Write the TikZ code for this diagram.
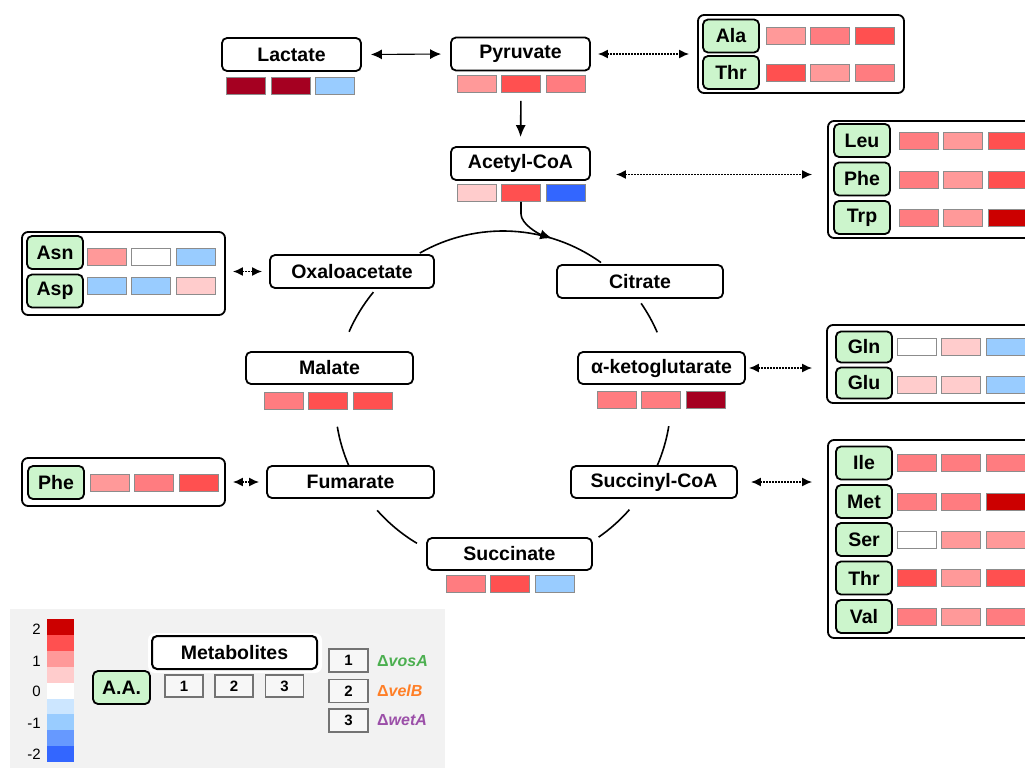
\documentclass[tikz,border=0pt]{standalone}
\usepackage{fontspec}
\setmainfont{Liberation Sans}
\usetikzlibrary{arrows.meta,calc}
\definecolor{Rz}{HTML}{FFCCCC}
\definecolor{Ra}{HTML}{FF9999}
\definecolor{Rb}{HTML}{FF7C80}
\definecolor{Rc}{HTML}{FF5050}
\definecolor{Rd}{HTML}{CC0000}
\definecolor{Re}{HTML}{A50021}
\definecolor{Ba}{HTML}{CCE6FF}
\definecolor{Bb}{HTML}{99CCFF}
\definecolor{Bc}{HTML}{6699FF}
\definecolor{Bd}{HTML}{3366FF}
\definecolor{Wh}{HTML}{FFFFFF}
\definecolor{aagreen}{HTML}{CCF5CC}
\definecolor{legbg}{HTML}{F2F2F2}
\definecolor{cellline}{HTML}{8C8C8C}
\definecolor{vosc}{HTML}{4CAF50}
\definecolor{velc}{HTML}{FF7F27}
\definecolor{wetc}{HTML}{9B4FA8}
\newcommand{\heatrow}[6]{%
  \node[cell,fill=#4] (#1a) at (#2,#3) {};
  \node[cell,fill=#5] (#1b) at ({#2+44.5},#3) {};
  \node[cell,fill=#6] (#1c) at ({#2+89},#3) {};}
\tikzset{
  met/.style={draw=black, line width=1.8pt, rounded corners=5pt, fill=white,
    minimum height=33pt, inner sep=0pt, font=\fontsize{19.5}{22}\selectfont\bfseries},
  aa/.style={draw=black, line width=1.8pt, rounded corners=5pt, fill=aagreen,
    minimum width=56pt, minimum height=33pt, inner sep=0pt, font=\fontsize{19.5}{22}\selectfont\bfseries},
  grp/.style={draw=black, line width=1.8pt, rounded corners=6pt, fill=white, inner sep=0pt},
  cell/.style={draw=cellline, line width=0.9pt, minimum width=39pt, minimum height=17pt, inner sep=0pt},
  cycline/.style={line width=1.6pt, black},
  biarrow/.style={{Latex[length=11pt,width=10pt]}-{Latex[length=11pt,width=10pt]}, line width=1.1pt},
  bidot/.style={{Latex[length=10pt,width=9pt]}-{Latex[length=10pt,width=9pt]}, line width=1.6pt, dash pattern=on 1.6pt off 1.4pt},
  legbox/.style={draw=black!55, line width=1.2pt, fill=legbg!60!white, inner sep=0pt,
    font=\fontsize{15}{18}\selectfont\bfseries},
  barlab/.style={anchor=east, inner sep=0pt, font=\fontsize{15}{18}\selectfont},
  strain/.style={anchor=west, inner sep=0pt, font=\fontsize{16}{19}\selectfont\bfseries}
}
\begin{document}
\begin{tikzpicture}[x=1pt,y=-1pt]
\clip (0,0) rectangle (1025,768);
\fill[white] (0,0) rectangle (1025,768);

% ---- TCA cycle arcs
\coordinate (cyc) at (503,399);
\draw[cycline] (cyc) ++(-119.7:168) arc[start angle=-119.7, end angle=-54.3, radius=168];
\draw[cycline] (cyc) ++(-34.7:168) arc[start angle=-34.7, end angle=-23.4, radius=168];
\draw[cycline] (cyc) ++(9.3:168) arc[start angle=9.3, end angle=23.7, radius=168];
\draw[cycline] (cyc) ++(41.2:168) arc[start angle=41.2, end angle=55.3, radius=168];
\draw[cycline] (cyc) ++(120.8:168) arc[start angle=120.8, end angle=138.5, radius=168];
\draw[cycline] (cyc) ++(156:168) arc[start angle=156, end angle=170.5, radius=168];
\draw[cycline] (cyc) ++(203.6:168) arc[start angle=203.6, end angle=219.5, radius=168];

% ---- metabolite boxes
\node[met, minimum width=139pt] (lac) at (291.5,54.5) {Lactate};
\node[met, minimum width=139pt] (pyr) at (520.5,54) {Pyruvate};
\node[met, minimum width=139pt] (acc) at (520.5,163.5) {Acetyl-CoA};
\node[met, minimum width=164pt] (oxa) at (352,271.5) {Oxaloacetate};
\node[met, minimum width=166pt] (cit) at (640,281.5) {Citrate};
\node[met, minimum width=167pt, minimum height=32pt] (mal) at (329.5,368) {Malate};
\node[met, minimum width=167pt, minimum height=32pt] (akg) at (661.5,368) {α-ketoglutarate};
\node[met, minimum width=167pt, minimum height=32pt] (fum) at (350.5,482) {Fumarate};
\node[met, minimum width=166pt, minimum height=32pt] (scoa) at (654,482) {Succinyl-CoA};
\node[met, minimum width=165pt, minimum height=32pt] (suc) at (509.5,554) {Succinate};

\heatrow{lac}{246}{85.5}{Re}{Re}{Bb}
\heatrow{pyr}{476.5}{84}{Ra}{Rc}{Rb}
\heatrow{acc}{476.5}{193}{Rz}{Rc}{Bd}
\heatrow{mal}{283.5}{401}{Rb}{Rc}{Rc}
\heatrow{akg}{616.5}{400}{Rb}{Rb}{Re}
\heatrow{suc}{465.5}{583.5}{Rb}{Rc}{Bb}

% acetyl-CoA inflow
\coordinate (tipA) at ($(cyc)+(-73:168)$);
\draw[cycline, -{Latex[length=12pt,width=10pt]}] (accb.south) -- ++(0,12) .. controls +(0,10) and +(-14,-4.6) .. (tipA);

% ---- amino-acid groups
\node[grp, minimum width=206pt, minimum height=78pt] (gat) at (801,54) {};
\node[grp, minimum width=212pt, minimum height=117pt] (glpt) at (934,179.5) {};
\node[grp, minimum width=203pt, minimum height=83pt] (gnd) at (123.5,273.5) {};
\node[grp, minimum width=203pt, minimum height=48pt] (gphe) at (123.5,482) {};
\node[grp, minimum width=213pt, minimum height=78pt] (gqe) at (933.5,364) {};
\node[grp, minimum width=212pt, minimum height=198pt] (gis) at (934,539) {};

\node[aa] (ala) at (731,36) {Ala};
\node[aa] (thra) at (731,72.5) {Thr};
\node[aa] (leu) at (862,140.5) {Leu};
\node[aa] (phea) at (862,179) {Phe};
\node[aa] (trp) at (862,217.5) {Trp};
\node[aa] (asn) at (55,252.5) {Asn};
\node[aa] (asp) at (55,291) {Asp};
\node[aa] (pheb) at (56,482.5) {Phe};
\node[aa, minimum height=31pt] (gln) at (864,347) {Gln};
\node[aa, minimum height=31pt] (glu) at (864,383) {Glu};
\node[aa] (ile) at (864,463) {Ile};
\node[aa] (met) at (864,501.5) {Met};
\node[aa] (ser) at (864,539.5) {Ser};
\node[aa] (thrb) at (864,578) {Thr};
\node[aa] (val) at (864,616.5) {Val};

\heatrow{ala}{785.5}{35.5}{Ra}{Rb}{Rc}
\heatrow{thra}{785.5}{72.5}{Rc}{Ra}{Rb}
\heatrow{leu}{918.5}{141}{Rb}{Ra}{Rc}
\heatrow{phea}{918.5}{179.5}{Rb}{Ra}{Rc}
\heatrow{trp}{918.5}{217.5}{Rb}{Ra}{Rd}
\heatrow{asn}{106.5}{256.5}{Ra}{Wh}{Bb}
\heatrow{asp}{106.5}{285.5}{Bb}{Bb}{Rz}
\heatrow{pheb}{109.5}{482.5}{Ra}{Rb}{Rc}
\heatrow{gln}{916.5}{347}{Wh}{Rz}{Bb}
\heatrow{glu}{916.5}{384.5}{Rz}{Rz}{Bb}
\heatrow{ile}{916.5}{463}{Rb}{Rb}{Rb}
\heatrow{met}{916.5}{501.5}{Rb}{Rb}{Rd}
\heatrow{ser}{916.5}{540}{Wh}{Ra}{Ra}
\heatrow{thrb}{916.5}{577.5}{Rc}{Ra}{Rc}
\heatrow{val}{916.5}{616.5}{Rb}{Ra}{Rb}

% ---- connectors
\draw[biarrow, shorten <=9pt, shorten >=9pt] (lac.east) -- (pyr.west);
\draw[line width=1.6pt, -{Latex[length=12pt,width=10pt]}, shorten <=8pt, shorten >=9pt] (pyrb.south) -- (acc.north);
\draw[bidot, shorten <=7pt, shorten >=8pt] (pyr.east) -- (gat.west);
\draw[bidot] ($(acc.east)+(25,11)$) -- ($(glpt.west)+(-15,-5)$);
\draw[bidot, shorten <=7pt, shorten >=7pt] (gnd.east |- oxa.west) -- (oxa.west);
\draw[bidot, shorten <=7pt, shorten >=7pt] (gphe.east |- fum.west) -- (fum.west);
\draw[bidot, shorten <=3pt, shorten >=14pt] (akg.east) -- (akg.east -| gqe.west);
\draw[bidot, shorten <=13pt, shorten >=15pt] (scoa.east) -- (scoa.east -| gis.west);

% ---- legend
\fill[legbg] (10,609) rectangle (445,770);
\foreach \c [count=\i from 0] in {Rd,Rc,Ra,Rz,Wh,Ba,Bb,Bc,Bd}
  \fill[\c] (47,{619+15.9*\i}) rectangle (74,{619+15.9*(\i+1)});
\node[barlab] (l2) at (41,629) {2};
\node[barlab] (l1) at (41,661) {1};
\node[barlab] (l0) at (41,691) {0};
\node[barlab] (lm1) at (41,723) {-1};
\node[barlab] (lm2) at (41,754) {-2};

\fill[white, rounded corners=7pt] (148,633) rectangle (322,673);
\node[met, minimum width=165pt, line width=2pt] (mleg) at (234.5,652.5) {Metabolites};
\node[aa, minimum width=57pt] (aleg) at (121.5,687.5) {A.A.};
\node[legbox, minimum width=38pt, minimum height=22pt] (n1) at (184,686) {1};
\node[legbox, minimum width=38pt, minimum height=22pt] (n2) at (234,686) {2};
\node[legbox, minimum width=38pt, minimum height=22pt] (n3) at (284.5,686) {3};
\node[legbox, minimum width=39pt, minimum height=23pt] (k1) at (348.5,660.5) {1};
\node[legbox, minimum width=39pt, minimum height=23pt] (k2) at (348.5,691) {2};
\node[legbox, minimum width=39pt, minimum height=23pt] (k3) at (348.5,720.5) {3};
\node[strain, text=vosc] (s1) at (377,661) {Δ\textit{vosA}};
\node[strain, text=velc] (s2) at (377,691) {Δ\textit{velB}};
\node[strain, text=wetc] (s3) at (377,720.5) {Δ\textit{wetA}};
\end{tikzpicture}
\end{document}
